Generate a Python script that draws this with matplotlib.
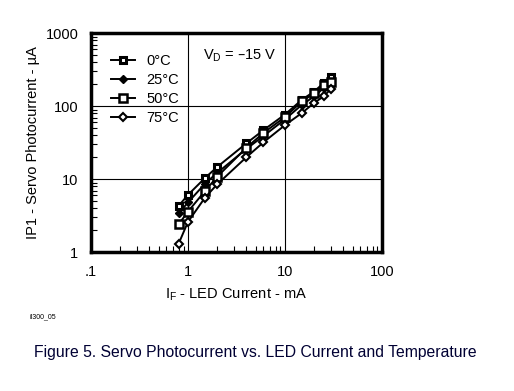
import numpy as np
import matplotlib.pyplot as plt
from matplotlib.ticker import LogLocator, NullFormatter, FixedLocator

plt.rcParams['font.family'] = ['Liberation Sans', 'DejaVu Sans']

# LED current, mA
i_f = [0.8, 1, 1.5, 2, 4, 6, 10, 15, 20, 25, 30]
# Servo photocurrent, uA, per temperature
ip_0 = [4.3, 6.1, 10.4, 14.7, 31, 47, 77, 123, 159, 207, 254]
ip_25 = [3.4, 4.8, 8.7, 12.2, 26, 39, 66, 105, 136, 177, 207]
ip_50 = [2.4, 3.6, 6.9, 10.8, 27, 43, 71, 117, 150, 196, 218]
ip_75 = [1.3, 2.6, 5.6, 8.5, 20, 32, 55, 81, 111, 136, 174]
temps = ['0°C', '25°C', '50°C', '75°C']

fig = plt.figure(figsize=(5.14, 3.91), dpi=100)
ax = fig.add_axes([0.177, 0.355, 0.566, 0.56])

styles = [
    dict(marker='s', ms=5, mfc='white', mec='black', mew=2.2),
    dict(marker='D', ms=4, mfc='black', mec='black', mew=1),
    dict(marker='s', ms=5.5, mfc='white', mec='black', mew=1.8),
    dict(marker='D', ms=4, mfc='white', mec='black', mew=1.5),
]
for ip, lab, st in zip([ip_0, ip_25, ip_50, ip_75], temps, styles):
    ax.plot(i_f, ip, color='black', lw=1.4, label=lab, **st)

ax.set_xscale('log')
ax.set_yscale('log')
ax.set_xlim(0.1, 100)
ax.set_ylim(1, 1000)

ax.xaxis.set_major_locator(FixedLocator([0.1, 1, 10, 100]))
ax.yaxis.set_major_locator(FixedLocator([1, 10, 100, 1000]))
ax.set_xticklabels(['.1', '1', '10', '100'])
ax.set_yticklabels(['1', '10', '100', '1000'])
ax.xaxis.set_minor_locator(LogLocator(base=10, subs=np.arange(2, 10)))
ax.yaxis.set_minor_locator(LogLocator(base=10, subs=np.arange(2, 10)))
ax.xaxis.set_minor_formatter(NullFormatter())
ax.yaxis.set_minor_formatter(NullFormatter())
ax.tick_params(which='major', length=0, labelsize=10.5, pad=9)
ax.tick_params(which='minor', direction='in', length=4, width=0.8)

ax.grid(True, which='major', color='black', lw=0.8)

for sp in ax.spines.values():
    sp.set_linewidth(2.5)

ax.legend(loc='upper left', frameon=False, fontsize=10.5, handlelength=1.6,
          handletextpad=0.8, labelspacing=0.35, borderaxespad=1.0)
ax.text(0.385, 0.935, '$\\mathregular{V_D}$ = \u201315 V', transform=ax.transAxes,
        fontsize=10.5, va='top')

ax.set_xlabel('$\\mathregular{I_F}$ - LED Current - mA', fontsize=10.5, labelpad=6)
ax.set_ylabel('IP1 - Servo Photocurrent - µA', fontsize=10.5, labelpad=4)

fig.text(0.058, 0.185, 'il300_05', fontsize=5)
fig.text(0.066, 0.088, 'Figure 5. Servo Photocurrent vs. LED Current and Temperature',
         fontsize=11.3, color='#000033')

fig.savefig('out.png', dpi=100)
